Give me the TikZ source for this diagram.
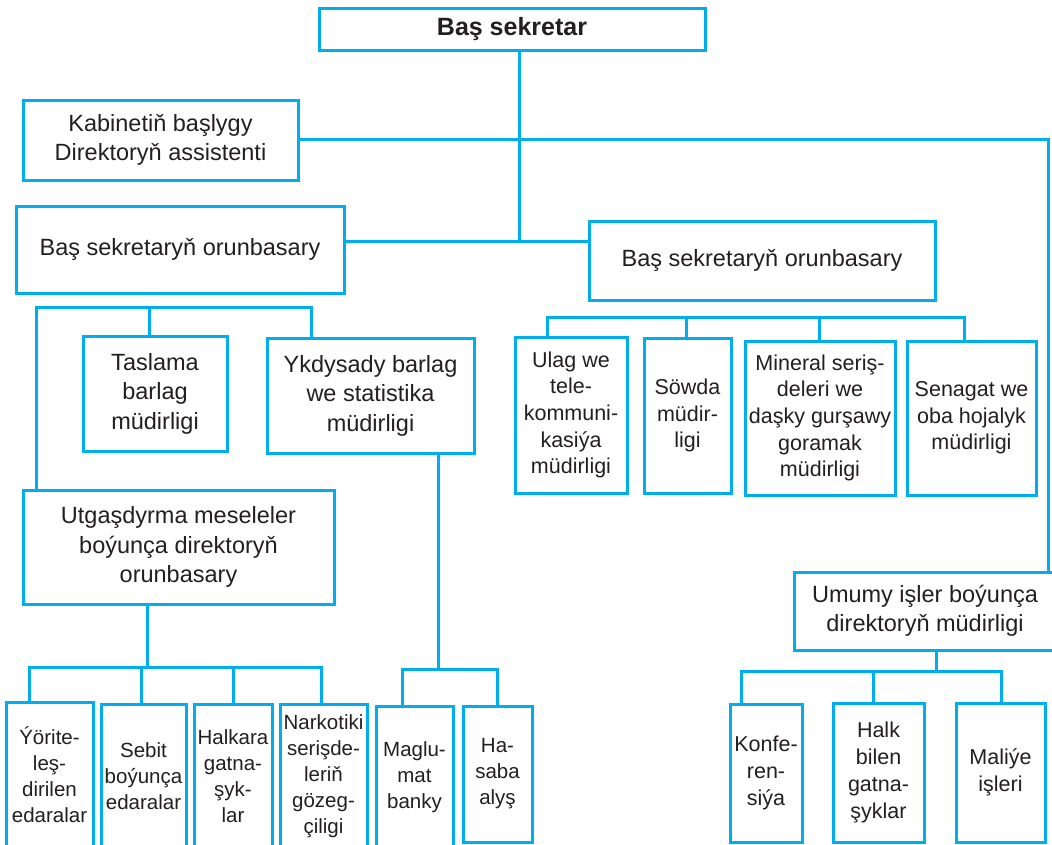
\documentclass[tikz,border=0pt]{standalone}
\usepackage{fontspec}
\setmainfont{Liberation Sans}
\definecolor{cyanline}{RGB}{0,174,239}
\definecolor{txt}{RGB}{35,31,32}
\tikzset{
  box/.style={draw=cyanline, line width=3pt, align=center, inner sep=0pt, text=txt, fill=white},
  conn/.style={draw=cyanline, line width=3pt, line join=miter},
  big/.style={font=\fontsize{23.5}{29.5}\selectfont},
  mid/.style={font=\fontsize{21.5}{26.7}\selectfont},
  sml/.style={font=\fontsize{20.5}{26}\selectfont},
}
\begin{document}
\begin{tikzpicture}[x=1pt,y=1pt]
\useasboundingbox (0,0) rectangle (1052,-844);
\clip (0,0) rectangle (1052,-844);
\fill[white] (0,0) rectangle (1052,-844);

% junction coordinates
\coordinate (j1) at (519,-241);
\coordinate (rc) at (1048,-139);
\coordinate (b1L) at (36,-307);
\coordinate (b1M) at (149,-307);
\coordinate (b1R) at (311,-307);
\coordinate (b2L) at (547,-317);
\coordinate (b2A) at (686,-317);
\coordinate (b2B) at (819,-317);
\coordinate (b2R) at (964,-317);
\coordinate (b3T) at (147,-667);
\coordinate (b3A) at (29,-667);
\coordinate (b3B) at (141,-667);
\coordinate (b3C) at (233,-667);
\coordinate (b3D) at (321,-667);
\coordinate (b4T) at (438,-669);
\coordinate (b4A) at (402,-669);
\coordinate (b4B) at (497,-669);
\coordinate (b5T) at (936,-671);
\coordinate (b5A) at (741,-671);
\coordinate (b5B) at (873,-671);
\coordinate (b5C) at (1001,-671);

% nodes
\node[box, minimum width=386pt, minimum height=42pt, font=\fontsize{25}{30}\selectfont\bfseries] (top) at (512,-29) {Baş sekretar};
\node[box, big, minimum width=275pt, minimum height=80pt] (kab) at (160.5,-140) {Kabinetiň başlygy\\Direktoryň assistenti};
\node[box, big, minimum width=328pt, minimum height=87pt] (dep1) at (180,-249.5) {Baş sekretaryň orunbasary};
\node[box, big, minimum width=346pt, minimum height=79pt] (dep2) at (762,-260.5) {Baş sekretaryň orunbasary};
\node[box, big, minimum width=144pt, minimum height=115pt] (tas) at (155,-393.5) {Taslama\\barlag\\müdirligi};
\node[box, big, minimum width=207pt, minimum height=115pt] (ykd) at (370.5,-395.5) {Ykdysady barlag\\we statistika\\müdirligi};
\node[box, big, minimum width=311pt, minimum height=114pt] (utg) at (178.5,-547) {Utgaşdyrma meseleler\\boýunça direktoryň\\orunbasary};
\node[box, mid, minimum width=112pt, minimum height=156pt] (ulag) at (571,-415) {Ulag we\\tele-\\kommuni-\\kasiýa\\müdirligi};
\node[box, mid, minimum width=87pt, minimum height=155pt] (sow) at (687.5,-415.5) {Söwda\\müdir-\\ligi};
\node[box, mid, minimum width=150pt, minimum height=154pt] (min) at (820,-418) {Mineral seriş-\\deleri we\\daşky gurşawy\\goramak\\müdirligi};
\node[box, mid, minimum width=129pt, minimum height=154pt] (sen) at (971.5,-418) {Senagat we\\oba hojalyk\\müdirligi};
\node[box, big, minimum width=262pt, minimum height=78pt] (umu) at (925,-611) {Umumy işler boýunça\\direktoryň müdirligi};

\node[box, sml, minimum width=87pt, minimum height=146pt] (yor) at (49.5,-775) {Ýörite-\\leş-\\dirilen\\edaralar};
\node[box, sml, minimum width=85pt, minimum height=144pt] (seb) at (143.5,-776) {Sebit\\boýunça\\edaralar};
\node[box, sml, minimum width=78pt, minimum height=144pt] (hal) at (233,-776) {Halkara\\gatna-\\şyk-\\lar};
\node[box, sml, minimum width=87pt, minimum height=144pt] (nar) at (323.5,-776) {Narkotiki\\serişde-\\leriň\\gözeg-\\çiligi};
\node[box, sml, minimum width=77pt, minimum height=142pt] (mag) at (414.5,-777) {Maglu-\\mat\\banky};
\node[box, sml, minimum width=69pt, minimum height=136pt] (has) at (497.5,-774) {Ha-\\saba\\alyş};
\node[box, mid, minimum width=72pt, minimum height=138pt] (kon) at (766,-773) {Konfe-\\ren-\\siýa};
\node[box, mid, minimum width=91pt, minimum height=139pt] (hlk) at (878.5,-772.5) {Halk\\bilen\\gatna-\\şyklar};
\node[box, mid, minimum width=89pt, minimum height=139pt] (mal) at (1000.5,-772.5) {Maliýe\\işleri};

% connectors
\draw[conn] (top.south -| j1) -- (j1);
\draw[conn] (j1 -| dep1.east) -- (j1 -| dep2.west);
\draw[conn] (rc -| kab.east) -- (rc) -- (umu.north -| rc);

\draw[conn] (utg.north -| b1L) -- (b1L) -- (b1R) -- (ykd.north -| b1R);
\draw[conn] (b1M) -- (tas.north -| b1M);

\draw[conn] (ulag.north -| b2L) -- (b2L) -- (b2R) -- (sen.north -| b2R);
\draw[conn] (b2A) -- (sow.north -| b2A);
\draw[conn] (b2B) -- (min.north -| b2B);

\draw[conn] (utg.south -| b3T) -- (b3T);
\draw[conn] (yor.north -| b3A) -- (b3A) -- (b3D) -- (nar.north -| b3D);
\draw[conn] (b3B) -- (seb.north -| b3B);
\draw[conn] (b3C) -- (hal.north -| b3C);

\draw[conn] (ykd.south -| b4T) -- (b4T);
\draw[conn] (mag.north -| b4A) -- (b4A) -- (b4B) -- (has.north -| b4B);

\draw[conn] (umu.south -| b5T) -- (b5T);
\draw[conn] (kon.north -| b5A) -- (b5A) -- (b5C) -- (mal.north -| b5C);
\draw[conn] (b5B) -- (hlk.north -| b5B);
\end{tikzpicture}
\end{document}
